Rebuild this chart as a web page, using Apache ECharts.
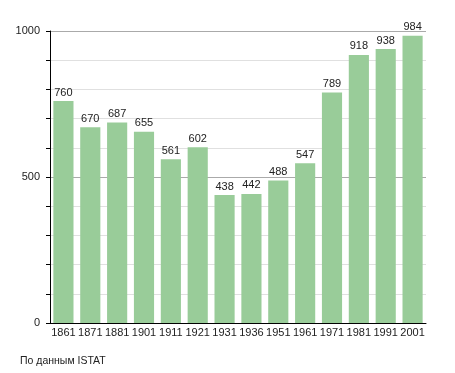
<!DOCTYPE html>
<html><head><meta charset="utf-8">
<script src="https://cdn.jsdelivr.net/npm/echarts@6/dist/echarts.min.js"></script>
<style>html,body{margin:0;padding:0;background:#fff}#c{width:455px;height:373px}</style>
</head><body><div id="c"></div>
<script>
const years = ['1861','1871','1881','1901','1911','1921','1931','1936','1951','1961','1971','1981','1991','2001'];
const population = [760,670,687,655,561,602,438,442,488,547,789,918,938,984];
const yLabels = [0,500,1000];
const footer = 'По данным ISTAT';

const chart = echarts.init(document.getElementById('c'), null, {renderer:'canvas'});
const font = 'Liberation Sans, Arial, sans-serif';
chart.setOption({
  animation:false,
  grid:{left:50,right:29,top:31,bottom:50,containLabel:false},
  xAxis:{type:'category',data:years,
    axisLine:{lineStyle:{color:'#000',width:1}},
    axisTick:{show:false},
    axisLabel:{color:'#222',fontFamily:font,fontSize:11,margin:4,interval:0}},
  yAxis:{type:'value',min:0,max:1000,interval:100,
    axisLine:{show:true,lineStyle:{color:'#000',width:1}},
    axisTick:{show:true,length:4,lineStyle:{color:'#000'}},
    axisLabel:{color:'#222',fontFamily:font,fontSize:11,margin:10,
      formatter:v=>yLabels.includes(v)?String(v):''},
    splitLine:{show:true,lineStyle:{color:['#aaa','#e0e0e0','#e0e0e0','#e0e0e0','#e0e0e0'],width:1}}},
  series:[{type:'bar',data:population,barCategoryGap:'25%',
    itemStyle:{color:'#99cc99'},
    label:{show:true,position:'top',distance:3,color:'#222',fontFamily:font,fontSize:11}}],
  graphic:[{type:'text',left:20,top:356,style:{text:footer,fill:'#222',font:'10.5px '+font}}]
});
</script></body></html>
